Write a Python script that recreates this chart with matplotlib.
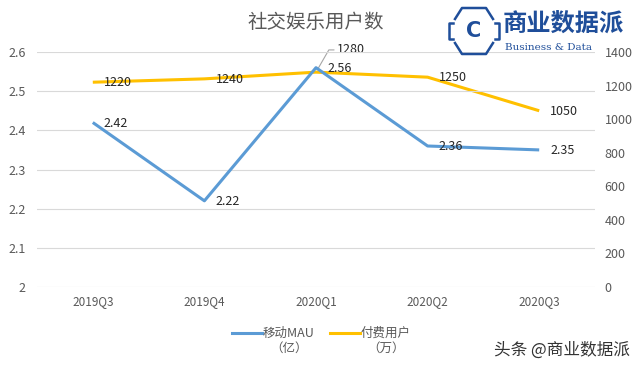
import numpy as np
import matplotlib.pyplot as plt
from matplotlib.lines import Line2D

plt.rcParams['font.family'] = ['Noto Sans CJK SC', 'DejaVu Sans']

# data
quarters = ["2019Q3", "2019Q4", "2020Q1", "2020Q2", "2020Q3"]
mau = [2.42, 2.22, 2.56, 2.36, 2.35]          # 亿
paid = [1220, 1240, 1280, 1250, 1050]         # 万
left_ticks = [2, 2.1, 2.2, 2.3, 2.4, 2.5, 2.6]
right_ticks = [0, 200, 400, 600, 800, 1000, 1200, 1400]
series_names = ["移动MAU", "付费用户"]
series_units = ["（亿）", "（万）"]

BLUE = "#5B9BD5"
YELLOW = "#FFC000"
GRAY = "#595959"
LOGO = "#1F4E9A"

W, H = 640, 368
fig = plt.figure(figsize=(6.4, 3.68), dpi=100)

def fx(px):
    return px / W

def fy(py):
    return 1 - py / H

ax = fig.add_axes([fx(37), fy(287), (595 - 37) / W, (287 - 52) / H])
ax2 = ax.twinx()

x = np.arange(len(quarters))
ax.plot(x, mau, color=BLUE, lw=2.2, solid_capstyle="butt", zorder=3)
ax2.plot(x, paid, color=YELLOW, lw=2.2, solid_capstyle="butt", zorder=2)
ax.set_zorder(ax2.get_zorder() + 1)
ax.patch.set_visible(False)

ax.set_xlim(-0.5, len(quarters) - 0.5)
ax.set_ylim(2, 2.6)
ax2.set_ylim(0, 1400)
ax.set_yticks(left_ticks)
ax.set_yticklabels([f"{t:g}" for t in left_ticks])
ax2.set_yticks(right_ticks)
ax.set_xticks(x)
ax.set_xticklabels(quarters)

for a in (ax, ax2):
    for s in a.spines.values():
        s.set_visible(False)
    a.tick_params(length=0, colors=GRAY, labelsize=9)
ax.tick_params(axis="y", pad=8)
ax2.tick_params(axis="y", pad=7)
ax.tick_params(axis="x", pad=6, labelsize=8.5)
ax.grid(axis="y", color="#D9D9D9", lw=0.8)
ax.set_axisbelow(True)

# data labels, Excel style: right of the point
for xi, v in zip(x, mau):
    ax.annotate(f"{v:.2f}", (xi, v), xytext=(8, -0.5), textcoords="offset points",
                fontsize=9, color="#262626", va="center", ha="left")
for xi, v in zip(x, paid):
    if v == max(paid):
        ax2.annotate(f"{v}", (xi, v), xytext=(15, 16), textcoords="offset points",
                     fontsize=9, color="#262626", va="center", ha="left",
                     arrowprops=dict(arrowstyle="-", color="#A6A6A6", lw=0.8,
                                     shrinkA=0, shrinkB=2,
                                     connectionstyle="angle,angleA=0,angleB=60,rad=0"))
    else:
        ax2.annotate(f"{v}", (xi, v), xytext=(8, -0.5), textcoords="offset points",
                     fontsize=9, color="#262626", va="center", ha="left")

fig.text(fx(316), fy(22), "社交娱乐用户数", fontsize=14, color=GRAY,
         ha="center", va="center")

# logo
def seg(pts, lw=1.8):
    fig.add_artist(Line2D([fx(p[0]) for p in pts], [fy(p[1]) for p in pts],
                          color=LOGO, lw=lw, transform=fig.transFigure))

seg([(455, 19), (462, 8), (486, 8), (493, 19)])
seg([(455, 43), (462, 54), (486, 54), (493, 43)])
seg([(453, 23), (449, 23), (449, 39), (453, 39)])
seg([(495, 23), (499, 23), (499, 39), (495, 39)])
fig.text(fx(474), fy(31), "C", fontsize=15, color=LOGO, ha="center",
         va="center", fontweight="bold", family="DejaVu Sans")
fig.text(fx(503), fy(25), "商业数据派", fontsize=17.5, color=LOGO,
         ha="left", va="center", fontweight="bold")
fig.text(fx(505), fy(48), "Business & Data", fontsize=7.5, color=LOGO,
         ha="left", va="center", family="DejaVu Serif")

# legend (drawn by hand: handle sits on the first text line, like Excel)
for x0, col, name, unit in zip([232, 330], [BLUE, YELLOW], series_names, series_units):
    fig.add_artist(Line2D([fx(x0), fx(x0 + 30)], [fy(333), fy(333)], color=col,
                          lw=2.2, transform=fig.transFigure))
    t = fig.text(fx(x0 + 31), fy(333), name, fontsize=9, color=GRAY,
                 ha="left", va="center")
    fig.canvas.draw()
    bb = t.get_window_extent()
    cx = (bb.x0 + bb.x1) / 2 / fig.dpi / fig.get_figwidth()
    fig.text(cx, fy(348), unit, fontsize=9, color=GRAY, ha="center", va="center")

fig.text(fx(630), fy(350), "头条 @商业数据派", fontsize=12, color="#333333",
         ha="right", va="center")

fig.savefig("out.png", dpi=100)
